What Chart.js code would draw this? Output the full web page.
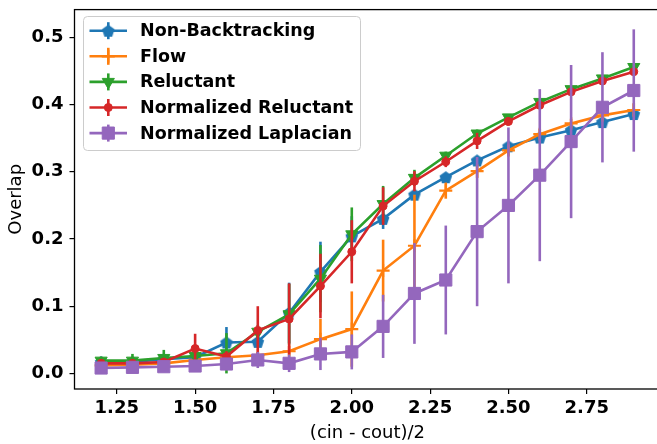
<!DOCTYPE html>
<html>
<head>
<meta charset="utf-8">
<title>Overlap</title>
<script src="https://cdn.jsdelivr.net/npm/chart.js@4.4.1/dist/chart.umd.min.js"></script>
<style>
    html, body { margin: 0; padding: 0; background: #fff; overflow: hidden; }
    #wrap { width: 670px; height: 444px; }
</style>
</head>
<body>
<div id="wrap"><canvas id="overlapChart" width="670" height="444"></canvas></div>
<script>
// ===============================
// Data
// ===============================
const xValues = [1.2, 1.3, 1.4, 1.5, 1.6, 1.7, 1.8, 1.9, 2.0, 2.1, 2.2, 2.3, 2.4, 2.5, 2.6, 2.7, 2.8, 2.9];

const nonBacktracking    = [0.017, 0.017, 0.021, 0.024, 0.046, 0.047, 0.090, 0.151, 0.204, 0.230, 0.266, 0.292, 0.317, 0.338, 0.351, 0.362, 0.374, 0.386];
const nonBacktrackingErr = [0.005, 0.004, 0.004, 0.004, 0.023, 0.008, 0.045, 0.045, 0.030, 0.015, 0.006, 0.005, 0.004, 0.004, 0.004, 0.004, 0.004, 0.004];

const flow    = [0.012, 0.013, 0.015, 0.020, 0.024, 0.027, 0.033, 0.051, 0.066, 0.153, 0.190, 0.272, 0.301, 0.332, 0.356, 0.372, 0.384, 0.392];
const flowErr = [0.002, 0.002, 0.003, 0.003, 0.004, 0.005, 0.008, 0.030, 0.056, 0.046, 0.076, 0.012, 0.010, 0.008, 0.008, 0.007, 0.008, 0.010];

const reluctant    = [0.019, 0.019, 0.023, 0.026, 0.030, 0.062, 0.088, 0.141, 0.207, 0.252, 0.291, 0.324, 0.357, 0.381, 0.404, 0.423, 0.439, 0.456];
const reluctantErr = [0.006, 0.010, 0.012, 0.008, 0.030, 0.010, 0.045, 0.050, 0.040, 0.027, 0.012, 0.006, 0.006, 0.005, 0.005, 0.005, 0.005, 0.005];

const normReluctant    = [0.015, 0.015, 0.017, 0.037, 0.025, 0.064, 0.081, 0.130, 0.181, 0.249, 0.286, 0.315, 0.346, 0.375, 0.399, 0.419, 0.435, 0.449];
const normReluctantErr = [0.004, 0.004, 0.005, 0.022, 0.008, 0.036, 0.053, 0.048, 0.047, 0.028, 0.015, 0.008, 0.012, 0.006, 0.005, 0.005, 0.005, 0.005];

const normLaplacian    = [0.008, 0.009, 0.010, 0.011, 0.014, 0.020, 0.015, 0.029, 0.032, 0.070, 0.119, 0.139, 0.211, 0.250, 0.295, 0.345, 0.396, 0.421];
const normLaplacianErr = [0.003, 0.003, 0.004, 0.005, 0.008, 0.012, 0.013, 0.024, 0.026, 0.047, 0.075, 0.081, 0.111, 0.116, 0.128, 0.114, 0.082, 0.091];

const xTicks = [1.25, 1.5, 1.75, 2.0, 2.25, 2.5, 2.75];
const yTicks = [0.0, 0.1, 0.2, 0.3, 0.4, 0.5];

// ===============================
// Marker helpers
// ===============================
function makePentagon(color, r) {
    const size = Math.ceil(2 * r + 4);
    const c = document.createElement("canvas");
    c.width = size;
    c.height = size;
    const g = c.getContext("2d");
    g.fillStyle = color;
    g.beginPath();
    for (let k = 0; k < 5; k++) {
        const a = -Math.PI / 2 + k * 2 * Math.PI / 5;
        g.lineTo(size / 2 + r * Math.cos(a), size / 2 + 0.6 + r * Math.sin(a));
    }
    g.closePath();
    g.fill();
    return c;
}

const FONT = "'DejaVu Sans', sans-serif";

const series = [
    { label: "Non-Backtracking", values: nonBacktracking, err: nonBacktrackingErr, color: "#1f77b4",
      pointStyle: makePentagon("#1f77b4", 6.6), radius: 7, rotation: 0, order: 5 },
    { label: "Flow", values: flow, err: flowErr, color: "#ff7f0e",
      pointStyle: "cross", radius: 6.5, rotation: 0, order: 4 },
    { label: "Reluctant", values: reluctant, err: reluctantErr, color: "#2ca02c",
      pointStyle: "triangle", radius: 7, rotation: 180, order: 3 },
    { label: "Normalized Reluctant", values: normReluctant, err: normReluctantErr, color: "#d62728",
      pointStyle: "circle", radius: 4, rotation: 0, order: 2 },
    { label: "Normalized Laplacian", values: normLaplacian, err: normLaplacianErr, color: "#9467bd",
      pointStyle: "rect", radius: 8.6, rotation: 0, order: 1 }
];

// ===============================
// Error bars, drawn under each line
// ===============================
const errorBarPlugin = {
    id: "errorBars",
    beforeDatasetDraw(chart, args) {
        const ds = chart.data.datasets[args.index];
        if (!ds.errors) return;
        const yScale = chart.scales.y;
        const ctx = chart.ctx;
        ctx.save();
        ctx.strokeStyle = ds.borderColor;
        ctx.lineWidth = 2.6;
        ctx.lineCap = "butt";
        args.meta.data.forEach((pt, i) => {
            const v = ds.data[i].y;
            const e = ds.errors[i];
            ctx.beginPath();
            ctx.moveTo(pt.x, yScale.getPixelForValue(v + e));
            ctx.lineTo(pt.x, yScale.getPixelForValue(v - e));
            ctx.stroke();
        });
        ctx.restore();
    }
};

// ===============================
// Frame + legend box (matplotlib style)
// ===============================
const framePlugin = {
    id: "frameAndLegend",
    afterDatasetsDraw(chart) {
        const { ctx, chartArea: a } = chart;
        ctx.save();
        ctx.strokeStyle = "#000";
        ctx.lineWidth = 1.3;
        ctx.strokeRect(a.left, a.top, a.right - a.left, a.bottom - a.top);

        // legend box
        const bx = 83.5, by = 16.5, bw = 277, bh = 134;
        ctx.beginPath();
        ctx.roundRect(bx, by, bw, bh, 4);
        ctx.fillStyle = "rgba(255,255,255,0.8)";
        ctx.fill();
        ctx.strokeStyle = "#cccccc";
        ctx.lineWidth = 1;
        ctx.stroke();

        ctx.font = "bold 17.5px " + FONT;
        ctx.textBaseline = "middle";
        ctx.textAlign = "left";
        series.forEach((s, i) => {
            const cy = 30.7 + i * 25.6;
            ctx.strokeStyle = s.color;
            ctx.fillStyle = s.color;
            ctx.lineWidth = 2.6;
            ctx.beginPath();
            ctx.moveTo(89.5, cy);
            ctx.lineTo(127, cy);
            ctx.stroke();
            ctx.beginPath();
            ctx.moveTo(108.3, cy - 8.5);
            ctx.lineTo(108.3, cy + 8.5);
            ctx.stroke();
            ctx.lineWidth = s.pointStyle === "cross" ? 2.2 : 1;
            Chart.helpers.drawPoint(ctx, {
                pointStyle: s.pointStyle,
                radius: s.radius,
                rotation: s.rotation,
                borderWidth: ctx.lineWidth
            }, 108.3, cy);
            ctx.fillStyle = "#000";
            ctx.fillText(s.label, 140, cy + 1);
        });
        ctx.restore();
    }
};

const datasets = series.map(s => ({
    label: s.label,
    data: xValues.map((x, i) => ({ x: x, y: s.values[i] })),
    errors: s.err,
    borderColor: s.color,
    backgroundColor: s.color,
    borderWidth: 2.6,
    pointStyle: s.pointStyle,
    pointRadius: s.radius,
    pointRotation: s.rotation,
    pointBorderColor: s.color,
    pointBackgroundColor: s.color,
    pointBorderWidth: s.pointStyle === "cross" ? 2.2 : 1,
    tension: 0,
    fill: false,
    order: s.order
}));

const tickFont = { family: FONT, size: 18, weight: "bold" };
const titleFont = { family: FONT, size: 18, weight: "normal" };

const ctx = document.getElementById("overlapChart").getContext("2d");
new Chart(ctx, {
    type: "line",
    data: { datasets: datasets },
    plugins: [errorBarPlugin, framePlugin],
    options: {
        responsive: false,
        animation: false,
        devicePixelRatio: 1,
        layout: { padding: { top: 7, right: 7, left: 0, bottom: 0 } },
        plugins: {
            legend: { display: false },
            tooltip: { enabled: false }
        },
        scales: {
            x: {
                type: "linear",
                min: 1.115,
                max: 2.985,
                afterBuildTicks: s => { s.ticks = xTicks.map(v => ({ value: v })); },
                afterFit: s => { s.height = 55; s.paddingLeft = 0; s.paddingRight = 0; },
                border: { display: false },
                grid: { drawOnChartArea: false, drawTicks: true, tickLength: 5, color: "#000", lineWidth: 1.2 },
                ticks: {
                    color: "#000", font: tickFont, padding: 4,
                    maxRotation: 0, autoSkip: false,
                    callback: v => v.toFixed(2)
                },
                title: { display: true, text: "(cin - cout)/2", color: "#000", font: titleFont,
                         padding: { top: 0, bottom: 0 } }
            },
            y: {
                type: "linear",
                min: -0.0232,
                max: 0.5414,
                afterBuildTicks: s => { s.ticks = yTicks.map(v => ({ value: v })); },
                afterFit: s => { s.width = 74.5; s.paddingTop = 0; s.paddingBottom = 0; },
                border: { display: false },
                grid: { drawOnChartArea: false, drawTicks: true, tickLength: 5, color: "#000", lineWidth: 1.2 },
                ticks: {
                    color: "#000", font: tickFont, padding: 6,
                    callback: v => v.toFixed(1)
                },
                title: { display: true, text: "Overlap", color: "#000", font: titleFont,
                         padding: { top: 6, bottom: 0 } }
            }
        }
    }
});
</script>
</body>
</html>
